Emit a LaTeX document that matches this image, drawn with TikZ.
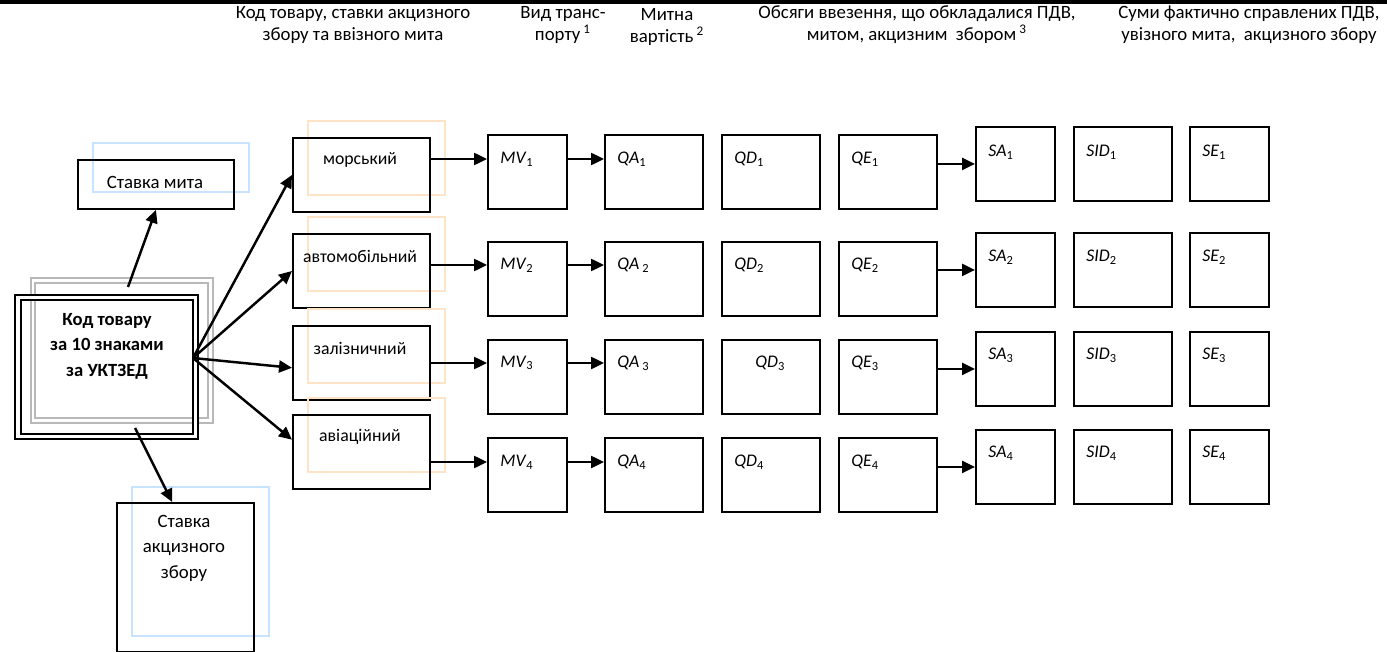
\documentclass[tikz,border=0pt]{standalone}
\usepackage{fontspec}
\setmainfont{Carlito}
\usetikzlibrary{arrows.meta}

\begin{document}
\begin{tikzpicture}[
        x=0.02cm, y=-0.02cm,
        >={Triangle[length=0.26cm, width=0.24cm]},
        font=\fontsize{10.7}{12.5}\selectfont,
        box/.style={draw, line width=1.1pt, inner sep=0pt, anchor=north west,
            minimum height=1.48cm},
        lbl/.style={anchor=west, inner sep=0pt, font=\fontsize{10.1}{12}\selectfont},
        arr/.style={->, line width=1.4pt},
        hdr/.style={align=center, inner sep=0pt},
        frameblue/.style={draw=blue!50!cyan!22, line width=0.8pt},
        frameorange/.style={draw=orange!22, line width=0.8pt}
    ]

        % --- Rahmen ---
        \useasboundingbox (0,0) rectangle (1387,652);
        \fill (0,0) rectangle (1387,4);

        % --- Spalten (x) ---
        \def\trx{292}
        \def\mvx{487}
        \def\qax{604}
        \def\qdx{721}
        \def\qex{838}
        \def\sax{975}
        \def\sidx{1073}
        \def\sex{1189}

        % --- Header ---
        \node[hdr] (hcode) at (353,25) {Код товару, ставки акцизного\\збору та ввізного мита};
        \node[hdr] (htrans) at (563,25) {Вид транс-\\порту\,\textsuperscript{1}};
        \node[hdr] (hvalue) at (667,27) {Митна\\вартість\,\textsuperscript{2}};
        \node[hdr] (hvol) at (917,25) {Обсяги ввезення, що обкладалися ПДВ,\\митом, акцизним~~збором\,\textsuperscript{3}};
        \node[hdr] (hsum) at (1249,25) {Суми фактично справлених ПДВ,\\увізного мита,~~акцизного збору};

        % --- Code box (left) ---
        \draw[draw=black!28, line width=1.1pt, double=white, double distance=0.05cm]
            (33,280.5) rectangle (210.5,420.5);
        \node[box, minimum width=3.55cm, minimum height=2.78cm,
            double, double distance=0.07cm] (code) at (17,296.5) {};
        \node[hdr, font=\fontsize{10.6}{12.5}\selectfont\bfseries] (codetext) at (107,346)
            {Код товару\\[2pt]за 10 знаками\\[2pt]за УКТЗЕД};

        % Ставка мита
        \draw[frameblue] (93,143) rectangle (249,192);
        \node[box, minimum width=3.12cm, minimum height=0.98cm] (duty) at (77,159) {};
        \node[inner sep=0pt] (dutytext) at (155,182) {Ставка мита};

        % Ставка акцизного збору
        \draw[frameblue] (132,487) rectangle (269,636);
        \node[box, minimum width=2.74cm, minimum height=2.98cm] (excise) at (116,502) {};
        \node[hdr] (excisetext) at (184,548) {Ставка\\[2pt]акцизного\\[2pt]збору};

        \coordinate (upstart) at (128,287);
        \coordinate (downstart) at (135,428);
        \coordinate (hub) at (193,358);
        \draw[arr] (upstart) -- (duty.south);
        \draw[arr] (downstart) -- (excise.100);

        % --- Rows ---
        \foreach \i/\yt/\ym/\ys/\ya/\yl/\trname/\qdl/\qs in {
                1/137/134/126/159/152/морський/734/{},
                2/233/241/232/265/257/автомобільний/734/{\,},
                3/325/339/331/363/355/залізничний/755/{\,},
                4/414/437/429/462/453/авіаційний/734/{}} {

            % transport
            \draw[frameorange] (\trx+16,\yt-16) rectangle (\trx+153,\yt+58);
            \node[box, minimum width=2.74cm] (tr\i) at (\trx,\yt) {};
            \node[lbl, anchor=center] (trl\i) at (360,\yt+23) {\trname};

            % customs value and volumes
            \node[box, minimum width=1.58cm] (mv\i) at (\mvx,\ym) {};
            \node[box, minimum width=1.96cm] (qa\i) at (\qax,\ym) {};
            \node[box, minimum width=1.96cm] (qd\i) at (\qdx,\ym) {};
            \node[box, minimum width=1.96cm] (qe\i) at (\qex,\ym) {};
            \node[lbl] (mvl\i) at (\mvx+13,\ya) {\textit{MV}\textsubscript{\i}};
            \node[lbl] (qal\i) at (\qax+13,\ya) {\textit{QA}\qs\textsubscript{\i}};
            \node[lbl] (qdl\i) at (\qdl,\ya) {\textit{QD}\textsubscript{\i}};
            \node[lbl] (qel\i) at (\qex+13,\ya) {\textit{QE}\textsubscript{\i}};

            % sums
            \node[box, minimum width=1.58cm] (sa\i) at (\sax,\ys) {};
            \node[box, minimum width=1.96cm] (sid\i) at (\sidx,\ys) {};
            \node[box, minimum width=1.58cm] (se\i) at (\sex,\ys) {};
            \node[lbl] (sal\i) at (\sax+13,\yl) {\textit{SA}\textsubscript{\i}};
            \node[lbl] (sidl\i) at (\sidx+13,\yl) {\textit{SID}\textsubscript{\i}};
            \node[lbl] (sel\i) at (\sex+13,\yl) {\textit{SE}\textsubscript{\i}};

            % arrows
            \draw[arr] (tr\i.east |- mvl\i) -- (mv\i.west |- mvl\i);
            \draw[arr] (mv\i.east |- mvl\i) -- (qa\i.west |- mvl\i);
            \draw[arr] (qe\i.east |- sa\i.west) -- (sa\i.west);
        }

        % --- From code to transport ---
        \draw[arr] (hub) -- (tr1.west);
        \draw[arr] (hub) -- (tr2.west);
        \draw[arr] (hub) -- (tr3.184);
        \draw[arr] (hub) -- (tr4.170);

    \end{tikzpicture}
\end{document}
